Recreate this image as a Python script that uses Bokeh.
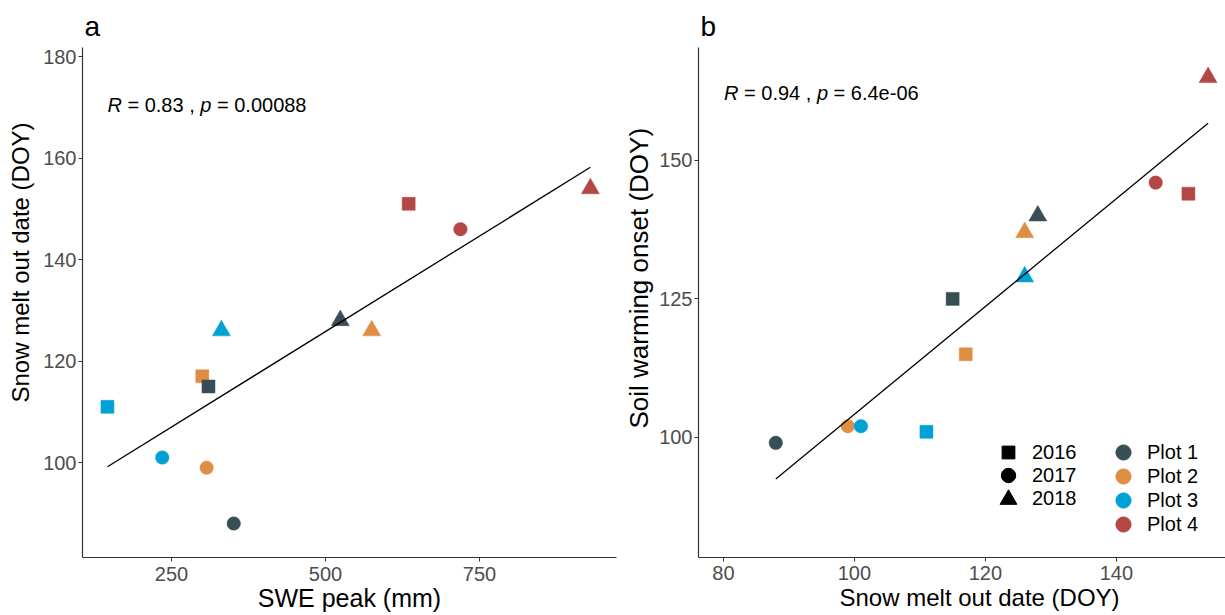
import numpy as np
from bokeh.plotting import figure
from bokeh.models import Range1d, FixedTicker, Legend, LegendItem, Label, ColumnDataSource, Title
from bokeh.layouts import row
from bokeh.embed import file_html
from bokeh.resources import INLINE

# ---------------- data ----------------
plot_names = ["Plot 1", "Plot 2", "Plot 3", "Plot 4"]
plot_colors = ["#374E55", "#DF8F44", "#00A1D5", "#B24745"]
years = ["2016", "2017", "2018"]
year_markers = ["square", "circle", "triangle"]

plot_col = ["Plot 1", "Plot 2", "Plot 3", "Plot 4"] * 3
year_col = ["2016"] * 4 + ["2017"] * 4 + ["2018"] * 4
swe_peak = [310, 300, 146, 635, 351, 307, 235, 719, 524, 575, 331, 930]
melt_doy = [115, 117, 111, 151, 88, 99, 101, 146, 128, 126, 126, 154]
soil_onset = [125, 115, 101, 144, 99, 102, 102, 146, 140, 137, 129, 165]

a_xticks = [250, 500, 750]
a_yticks = [100, 120, 140, 160, 180]
b_xticks = [80, 100, 120, 140]
b_yticks = [100, 125, 150]
stat_a = ("0.83", "0.00088")
stat_b = ("0.94", "6.4e-06")

FONT = "Liberation Sans"
NB = "\u00a0"
draw_order = ["Plot 2", "Plot 4", "Plot 3", "Plot 1"]
marker_size = {"square": 13, "circle": 13.5, "triangle": 18}
color_of = dict(zip(plot_names, plot_colors))
marker_of = dict(zip(years, year_markers))

H = 615
TOP, BOTTOM = 47, 58
FRAME_H = H - TOP - BOTTOM


def make_panel(letter, xs, ys, xr, yr, xticks, yticks, stat, stat_pos,
               width, border_left, border_right, x_label_standoff):
    p = figure(width=width, height=H, x_range=Range1d(*xr), y_range=Range1d(*yr),
               output_backend="svg", toolbar_location=None,
               min_border_left=border_left, min_border_right=border_right,
               min_border_top=TOP, min_border_bottom=BOTTOM)
    p.grid.visible = False
    p.outline_line_color = None
    p.background_fill_color = "white"
    p.title.text = letter
    p.title.text_font = FONT
    p.title.text_font_size = "28px"
    p.title.text_font_style = "normal"
    p.title.text_color = "black"
    p.title.offset = 2
    p.title.standoff = 11
    for ax, ticks, so in ((p.xaxis[0], xticks, x_label_standoff), (p.yaxis[0], yticks, 2)):
        ax.ticker = FixedTicker(ticks=ticks)
        ax.axis_line_color = "#333333"
        ax.axis_line_width = 1.2
        ax.major_tick_line_color = "#333333"
        ax.major_tick_out = 4
        ax.major_tick_in = 0
        ax.minor_tick_line_color = None
        ax.major_label_text_font = FONT
        ax.major_label_text_font_size = "20px"
        ax.major_label_text_color = "#4D4D4D"
        ax.major_label_standoff = so
        ax.axis_label_text_font = FONT
        ax.axis_label_text_font_style = "normal"
        ax.axis_label_text_color = "black"
        ax.axis_label_standoff = 0

    # points
    for pl in draw_order:
        idx = [i for i, v in enumerate(plot_col) if v == pl]
        mk = [marker_of[year_col[i]] for i in idx]
        src = ColumnDataSource(dict(
            x=[xs[i] for i in idx], y=[ys[i] for i in idx],
            marker=mk, size=[marker_size[m] for m in mk]))
        p.scatter("x", "y", source=src, marker="marker", size="size",
                  fill_color=color_of[pl], line_color=color_of[pl], line_width=0.5)

    # regression line
    slope, intercept = np.polyfit(xs, ys, 1)
    lx = np.array([min(xs), max(xs)], dtype=float)
    p.line(lx, slope * lx + intercept, line_color="black", line_width=1.3)

    # stat annotation
    r, pv = stat
    sx, sy = stat_pos
    fs = 20
    segs = [("R", "italic"), (" = %s , " % r, "normal"), ("p", "italic"), (" = %s" % pv, "normal")]
    em = {"R": .722, "p": .556, " ": .278, "=": .584, ",": .278, ".": .278, "-": .333, "e": .556}
    off = 0.0
    for txt, style in segs:
        p.add_layout(Label(x=sx, y=sy, x_offset=off, text=txt.replace(" ", NB), text_font=FONT,
                           text_font_size="%dpx" % fs, text_font_style=style,
                           text_baseline="middle", text_align="left", text_color="black"))
        off += sum(em.get(ch, .556) for ch in txt) * fs
    return p


def side_title(p, text, side, offset, standoff, size):
    p.add_layout(Title(text=text, align="left", offset=offset, standoff=standoff,
                       vertical_align="middle", text_font=FONT, text_font_size=size,
                       text_font_style="normal", text_color="black"), side)


PA_W, PB_W = 620, 605
pa = make_panel("a", swe_peak, melt_doy, (105.5, 972.4), (81.3, 181.8), a_xticks, a_yticks,
                stat_a, (146, 170.5), PA_W, 82, 4, 5)
pb = make_panel("b", melt_doy, soil_onset, (76.2, 156.66), (78.3, 170.4), b_xticks, b_yticks,
                stat_b, (80.1, 162.1), PB_W, 78, 0, 4)

pa.xaxis[0].axis_label = "SWE peak (mm)"
pa.xaxis[0].axis_label_text_font_size = "25px"
side_title(pa, "Snow melt out date (DOY)", "left", 155, 11, "24px")
side_title(pb, "Snow melt out date (DOY)", "below", 141, 0, "24px")
side_title(pb, "Soil warming onset (DOY)", "left", 129, 3, "26px")

# legends (panel b): one small Legend per key so that keys get ggplot-like size
nan = float("nan")


def add_key(p, label, marker, color, cx, cy_top, g):
    # cx: key centre from frame left, cy_top: key centre from frame top, g: glyph box size
    rr = p.scatter(x=[nan], y=[nan], marker=marker, fill_color=color, line_color=color)
    lx = cx - g / 2
    ly = (FRAME_H - cy_top) - g / 2
    leg = Legend(items=[LegendItem(label=label, renderers=[rr])], location=(lx, ly),
                 glyph_width=g, glyph_height=g, label_standoff=int(round(24 - g / 2)),
                 spacing=0, padding=0, margin=0, border_line_alpha=0, background_fill_alpha=0,
                 label_text_font=FONT, label_text_font_size="20px", label_text_color="black")
    p.add_layout(leg)


year_key_size = {"square": 32, "circle": 36, "triangle": 42}
for k, (yv, mk) in enumerate(zip(years, year_markers)):
    add_key(pb, yv, mk, "black", 310, 405 + 23.3 * k, year_key_size[mk])
for k, (pn, col) in enumerate(zip(plot_names, plot_colors)):
    add_key(pb, pn, "circle", col, 425, 405 + 24.1 * k, 38)

layout = row(pa, pb)
open("out.html", "w").write(file_html(layout, INLINE))
